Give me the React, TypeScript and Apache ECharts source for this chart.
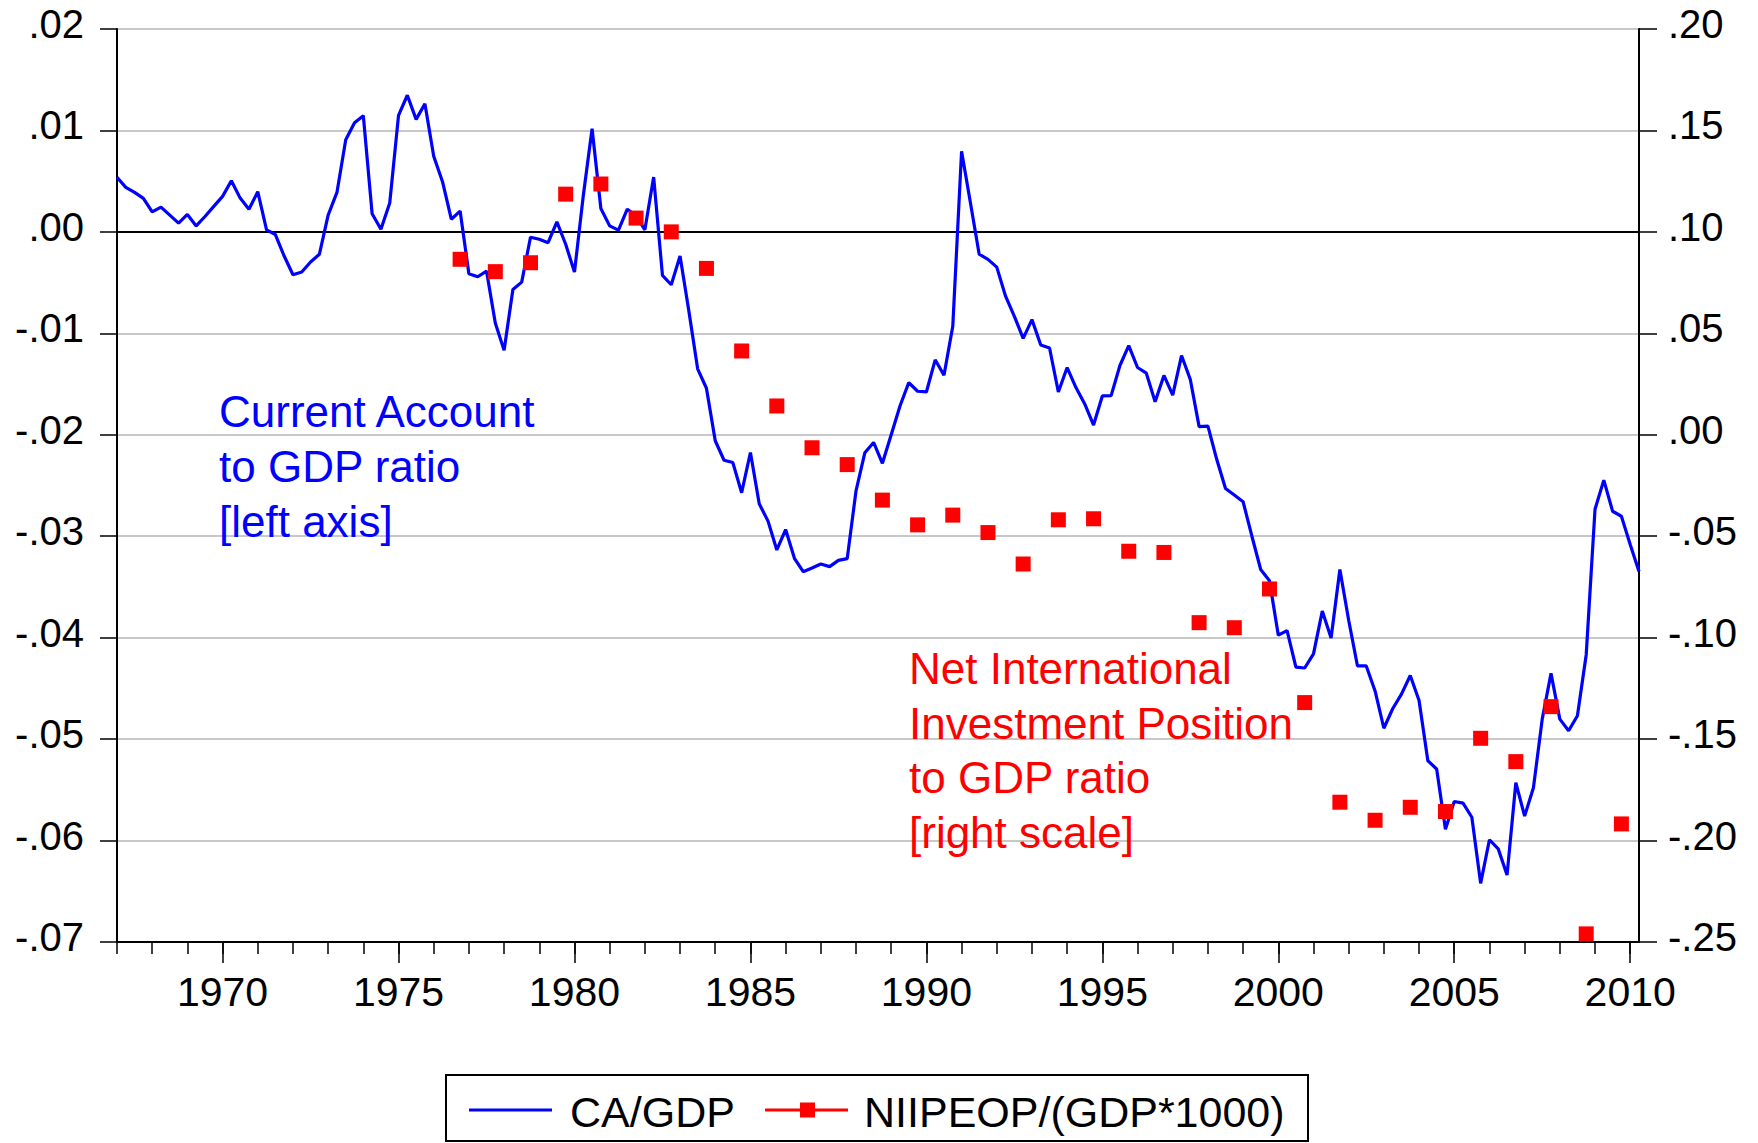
import React, { useEffect, useRef } from 'react';
import * as echarts from 'echarts';

// ---- categories (quarterly, 1967Q1 .. 2010Q2) ----
const START_YEAR = 1967;
const END_YEAR = 2010;
const END_QUARTER = 2;
const quarters: string[] = [];
for (let y = START_YEAR; y <= END_YEAR; y++) {
  for (let q = 1; q <= 4; q++) {
    if (y === END_YEAR && q > END_QUARTER) break;
    quarters.push(`${y}Q${q}`);
  }
}

// ---- CA/GDP (quarterly, left axis) ----
const caGdp = [
  0.00538, 0.00439, 0.00389, 0.0033, 0.00198, 0.00244, 0.00165, 0.00086,
  0.00172, 0.00059, 0.00152, 0.00251, 0.0035, 0.00505, 0.00333, 0.00224,
  0.00396, 0.0002, -0.00026, -0.00238, -0.00422, -0.00396, -0.00297, -0.00221,
  0.00165, 0.00389, 0.00908, 0.01076, 0.01145, 0.00178, 0.00026, 0.00284,
  0.01149, 0.01347, 0.01109, 0.01264, 0.00746, 0.00495, 0.00125, 0.00205,
  -0.00413, -0.00442, -0.00386, -0.00898, -0.01168, -0.00568, -0.00495, -0.00053,
  -0.00073, -0.00106, 0.00099, -0.00122, -0.00396, 0.00356, 0.01017, 0.00231,
  0.00059, 0.00017, 0.00224, 0.0016, 0.0002, 0.0054, -0.00429, -0.00521,
  -0.00238, -0.0078, -0.0135, -0.01541, -0.02059, -0.02251, -0.02274, -0.02571,
  -0.02175, -0.0268, -0.02851, -0.03135, -0.02934, -0.03218, -0.0335, -0.03314,
  -0.03274, -0.033, -0.03238, -0.03221, -0.02554, -0.02178, -0.02076, -0.02281,
  -0.02, -0.01716, -0.01485, -0.01571, -0.01578, -0.01261, -0.01413, -0.00931,
  0.00795, 0.0029, -0.0022, -0.00271, -0.00347, -0.00634, -0.00832, -0.0105,
  -0.00865, -0.01116, -0.01145, -0.01578, -0.01337, -0.01535, -0.01696, -0.01904,
  -0.01617, -0.01614, -0.01317, -0.01122, -0.01337, -0.01393, -0.01674, -0.01415,
  -0.01609, -0.01219, -0.01455, -0.0192, -0.01914, -0.02242, -0.02529, -0.02594,
  -0.0266, -0.03, -0.03328, -0.03439, -0.03975, -0.0393, -0.04291, -0.04299,
  -0.0416, -0.03738, -0.04004, -0.03328, -0.03828, -0.04279, -0.04279, -0.04525,
  -0.04893, -0.04701, -0.04557, -0.04373, -0.04619, -0.05213, -0.05295, -0.05889,
  -0.05615, -0.05631, -0.0577, -0.06422, -0.05992, -0.06082, -0.0634, -0.0543,
  -0.05758, -0.0548, -0.04803, -0.04352, -0.04803, -0.04918, -0.0477, -0.04168,
  -0.02734, -0.02447, -0.02754, -0.02803, -0.03082, -0.03348,
];

// ---- NIIP / GDP (annual, end of period = Q4, right axis) ----
const niipYears = [
  1976, 1977, 1978, 1979, 1980, 1981, 1982, 1983, 1984, 1985, 1986, 1987,
  1988, 1989, 1990, 1991, 1992, 1993, 1994, 1995, 1996, 1997, 1998, 1999,
  2000, 2001, 2002, 2003, 2004, 2005, 2006, 2007, 2008, 2009,
];
const niipGdp = [
  0.0865, 0.0804, 0.0848, 0.1186, 0.1236, 0.1068, 0.1, 0.082, 0.0413, 0.0142,
  -0.0064, -0.0147, -0.0322, -0.0444, -0.0396, -0.0482, -0.0637, -0.0419,
  -0.0414, -0.0574, -0.058, -0.0926, -0.0951, -0.076, -0.132, -0.1811, -0.19,
  -0.1836, -0.1857, -0.1496, -0.1611, -0.134, -0.246, -0.1918,
];

// ---- axis scales ----
const leftAxis = { min: -0.07, max: 0.02, interval: 0.01 };
const rightAxis = { min: -0.25, max: 0.2, interval: 0.05 };

const seriesNames = ['CA/GDP', 'NIIPEOP/(GDP*1000)'];
const caNote = 'Current Account\nto GDP ratio\n[left axis]';
const niipNote = 'Net International\nInvestment Position\nto GDP ratio\n[right scale]';

const FONT = '"Liberation Sans", Arial, Helvetica, sans-serif';
const BLUE = '#0000FF';
const RED = '#FF0000';

const fmtTick = (v: number) => {
  if (Math.abs(v) < 1e-9) return '.00';
  return v.toFixed(2).replace(/^(-?)0\./, '$1.');
};

const isFiveYearQ1 = (_i: number, val: string) =>
  val.endsWith('Q1') && parseInt(val, 10) % 5 === 0;
const isQ1 = (_i: number, val: string) => val.endsWith('Q1');

export default function App() {
  const ref = useRef<HTMLDivElement>(null);

  useEffect(() => {
    if (!ref.current) return;
    const chart = echarts.init(ref.current, undefined, { renderer: 'svg' });

    const niipData = niipYears.map((y, i) => [`${y}Q4`, niipGdp[i]]);

    const gridSplitColors = [] as string[];
    const nLines = Math.round((leftAxis.max - leftAxis.min) / leftAxis.interval) + 1;
    for (let k = 0; k < nLines; k++) {
      const v = leftAxis.min + k * leftAxis.interval;
      gridSplitColors.push(Math.abs(v) < 1e-9 ? '#000000' : '#C8C8C8');
    }

    const yLabel = {
      formatter: fmtTick,
      fontSize: 40,
      color: '#000',
      fontFamily: FONT,
      verticalAlign: 'bottom',
      lineHeight: 10,
    };

    chart.setOption({
      animation: false,
      backgroundColor: '#ffffff',
      textStyle: { fontFamily: FONT },
      grid: {
        left: 117,
        right: 119,
        top: 29,
        bottom: 201,
        show: true,
        borderColor: '#000',
        borderWidth: 2,
        backgroundColor: 'transparent',
      },
      xAxis: [
        {
          type: 'category',
          data: quarters,
          boundaryGap: false,
          position: 'bottom',
          axisLine: { show: true, onZero: false, lineStyle: { color: '#000', width: 2 } },
          axisTick: {
            show: true,
            interval: isFiveYearQ1,
            length: 21,
            lineStyle: { color: '#000', width: 1.5 },
          },
          axisLabel: {
            show: true,
            interval: isFiveYearQ1,
            formatter: (val: string) => val.slice(0, 4),
            fontSize: 41,
            color: '#000',
            fontFamily: FONT,
            margin: 29,
          },
          splitLine: { show: false },
        },
        {
          type: 'category',
          data: quarters,
          boundaryGap: false,
          position: 'bottom',
          axisLine: { show: false, onZero: false },
          axisTick: {
            show: true,
            interval: isQ1,
            length: 12,
            lineStyle: { color: '#000', width: 1.5 },
          },
          axisLabel: { show: false },
          splitLine: { show: false },
        },
      ],
      yAxis: [
        {
          type: 'value',
          position: 'left',
          min: leftAxis.min,
          max: leftAxis.max,
          interval: leftAxis.interval,
          axisLine: { show: true, onZero: false, lineStyle: { color: '#000', width: 2 } },
          axisTick: { show: true, length: 17, lineStyle: { color: '#000', width: 1.5 } },
          axisLabel: { ...yLabel, margin: 33 },
          splitLine: { show: true, lineStyle: { color: gridSplitColors, width: 2 } },
        },
        {
          type: 'value',
          position: 'right',
          min: rightAxis.min,
          max: rightAxis.max,
          interval: rightAxis.interval,
          axisLine: { show: true, onZero: false, lineStyle: { color: '#000', width: 2 } },
          axisTick: { show: true, length: 18, lineStyle: { color: '#000', width: 1.5 } },
          axisLabel: { ...yLabel, margin: 29 },
          splitLine: { show: false },
        },
      ],
      series: [
        {
          name: seriesNames[0],
          type: 'line',
          data: caGdp,
          xAxisIndex: 0,
          yAxisIndex: 0,
          symbol: 'none',
          showSymbol: false,
          lineStyle: { color: BLUE, width: 3.2 },
          itemStyle: { color: BLUE },
          z: 3,
        },
        {
          name: seriesNames[1],
          type: 'scatter',
          data: niipData,
          xAxisIndex: 0,
          yAxisIndex: 1,
          symbol: 'rect',
          symbolSize: 15,
          itemStyle: { color: RED, opacity: 1 },
          z: 4,
        },
      ],
      graphic: [
        {
          type: 'text',
          left: 219,
          top: 384,
          z: 10,
          style: {
            text: caNote,
            fill: BLUE,
            fontSize: 44,
            fontFamily: FONT,
            lineHeight: 55,
          },
        },
        {
          type: 'text',
          left: 909,
          top: 641.5,
          z: 10,
          style: {
            text: niipNote,
            fill: RED,
            fontSize: 44,
            fontFamily: FONT,
            lineHeight: 54.5,
          },
        },
        // legend box
        {
          type: 'rect',
          z: 10,
          shape: { x: 446, y: 1075, width: 862, height: 66 },
          style: { fill: '#fff', stroke: '#000', lineWidth: 2 },
        },
        {
          type: 'line',
          z: 11,
          shape: { x1: 469, y1: 1110, x2: 552, y2: 1110 },
          style: { stroke: BLUE, lineWidth: 3 },
        },
        {
          type: 'text',
          z: 11,
          x: 570,
          y: 1112,
          style: {
            text: seriesNames[0],
            fill: '#000',
            fontSize: 43,
            fontFamily: FONT,
            verticalAlign: 'middle',
          },
        },
        {
          type: 'line',
          z: 11,
          shape: { x1: 765, y1: 1110, x2: 848, y2: 1110 },
          style: { stroke: RED, lineWidth: 3 },
        },
        {
          type: 'rect',
          z: 12,
          shape: { x: 800, y: 1102.5, width: 15, height: 15 },
          style: { fill: RED },
        },
        {
          type: 'text',
          z: 11,
          x: 864,
          y: 1112,
          style: {
            text: seriesNames[1],
            fill: '#000',
            fontSize: 43,
            fontFamily: FONT,
            verticalAlign: 'middle',
          },
        },
      ],
    });

    return () => {
      chart.dispose();
    };
  }, []);

  return (
    <div
      ref={ref}
      style={{ position: 'absolute', left: 0, top: 0, width: 1758, height: 1143 }}
    />
  );
}
